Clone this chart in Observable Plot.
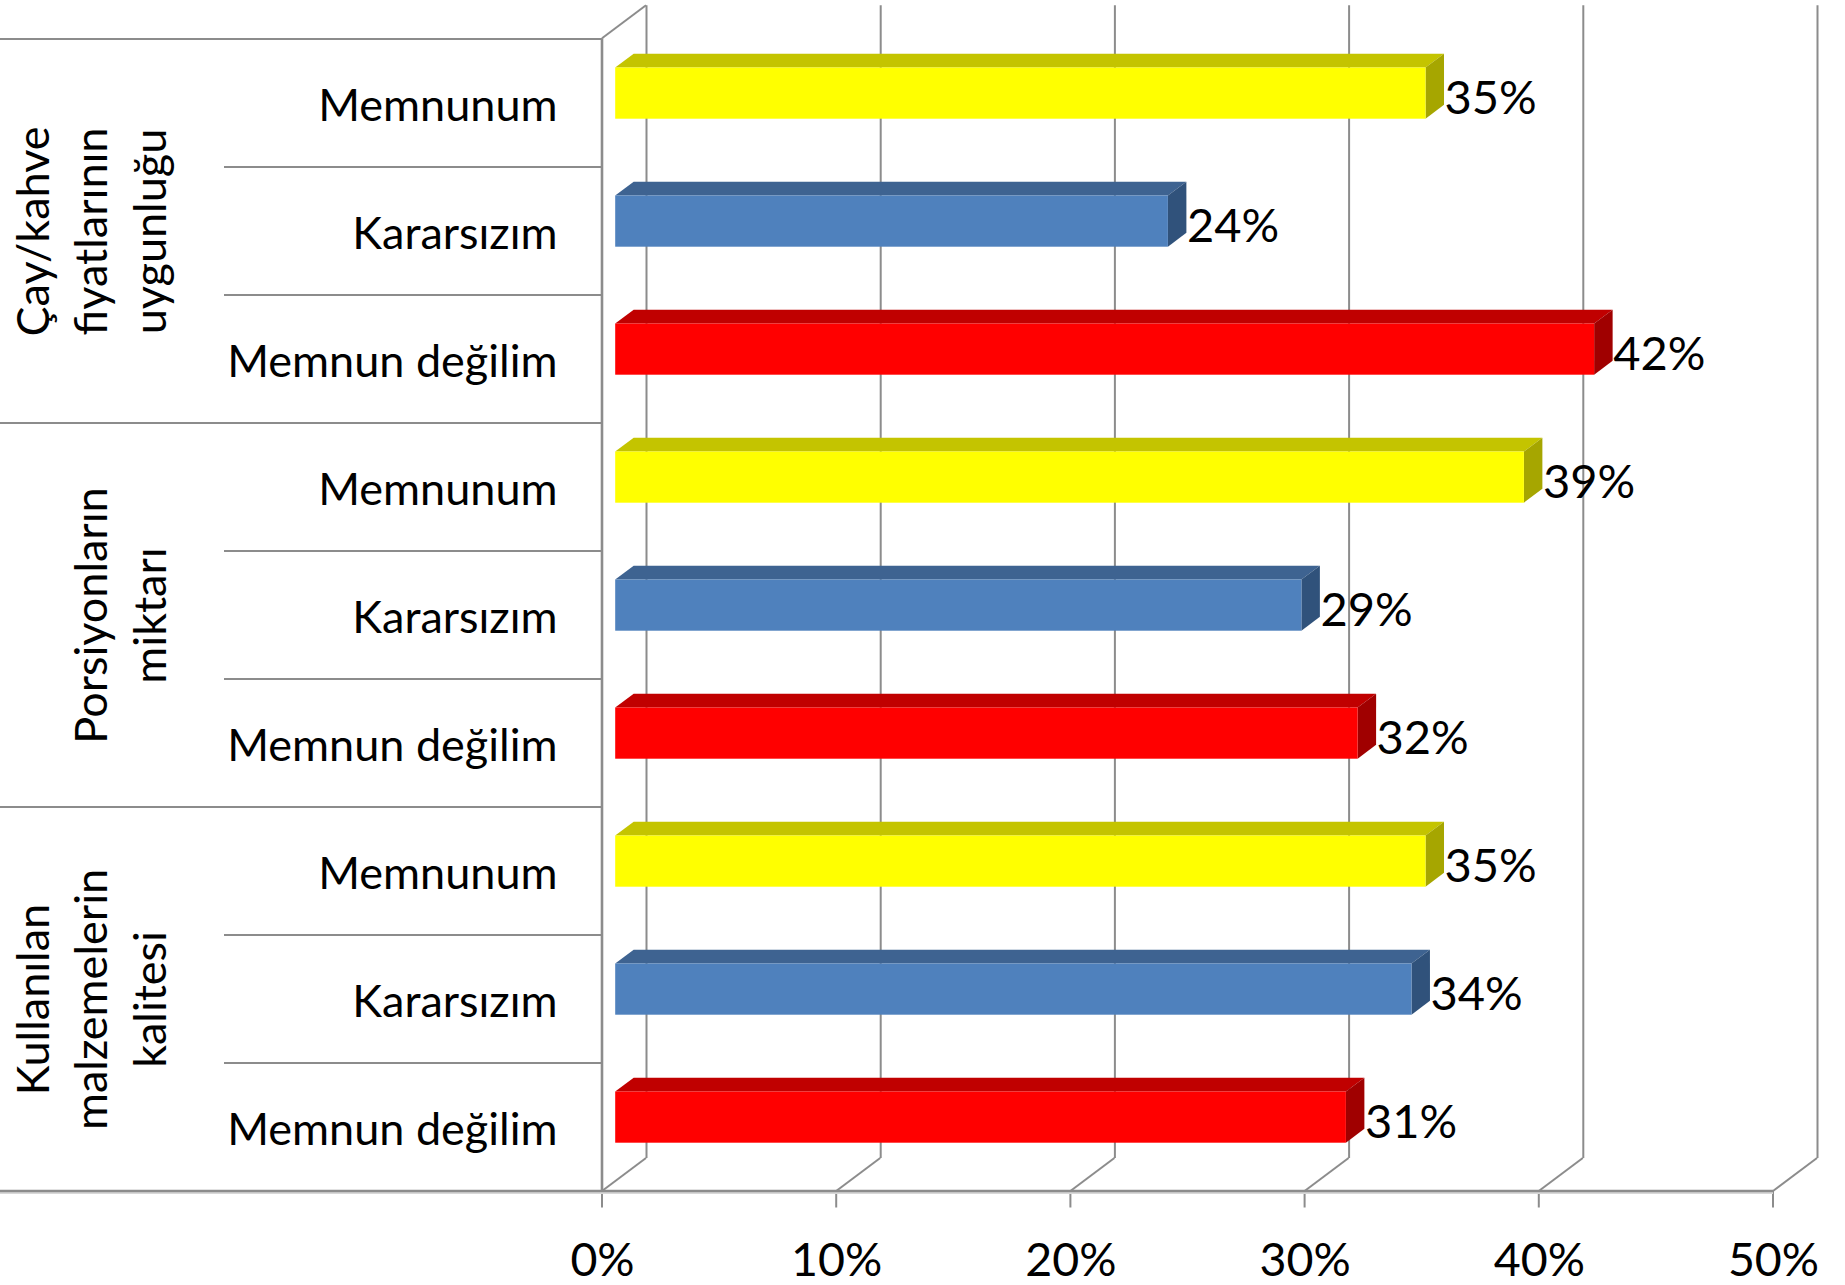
<!DOCTYPE html>
<html>
<head>
<meta charset="utf-8">
<script src="https://cdn.jsdelivr.net/npm/d3@7"></script>
<script src="https://cdn.jsdelivr.net/npm/@observablehq/plot@0.6"></script>
<style>
  html, body { margin: 0; padding: 0; background: #ffffff; }
  #chart svg { display: block; }
</style>
</head>
<body>
<div id="chart"></div>
<script>
// ---- data ----
const groupLabels = ["Çay/kahve\nfiyatlarının\nuygunluğu", "Porsiyonların\nmiktarı", "Kullanılan\nmalzemelerin\nkalitesi"];
const responses = ["Memnunum", "Kararsızım", "Memnun değilim"];
const cayKahveFiyat = [34.6, 23.6, 41.8];
const porsiyonMiktar = [38.8, 29.3, 31.7];
const malzemeKalite = [34.6, 34.0, 31.2];
const xTicks = [0, 10, 20, 30, 40, 50];

// ---- styles ----
const frontColors = ["#FFFF00", "#4F81BD", "#FF0000"];
const topColors = ["#C4C400", "#3E6391", "#C00000"];
const sideColors = ["#A6A600", "#30527B", "#A00000"];
const GRID = "#8C8C8C";
const FONT = "Lato, 'Open Sans', sans-serif";

const series = [cayKahveFiyat, porsiyonMiktar, malzemeKalite];
const rows = series.flatMap((vals, g) =>
  responses.map((r, i) => ({group: g, idx: i, key: `${g}-${i}`, response: r, value: vals[i]})));
const groups = groupLabels.map((label, g) => ({label, key: `${g}-1`}));

// ---- layout ----
const W = 1845, H = 1285;
const M = {top: 38.3, right: 72, bottom: 94, left: 602};
const DEPTH = {dx: 44, dy: -33};
const BAR_FRONT = 0.30, BAR_BACK = 0.72;
const INSET = 38.4;
const SUB_LEFT = 224;
const TICK = 16.5;

function frame3d(index, scales, values, dim) {
  const x = scales.x, y = scales.y;
  const top = dim.marginTop, bottom = dim.height - dim.marginBottom;
  const x0 = x(0);
  const g = d3.create("svg:g").attr("fill", "none").attr("stroke", GRID).attr("stroke-width", 2);
  const line = (a, b, c, d, w) => g.append("line").attr("x1", a).attr("y1", b).attr("x2", c).attr("y2", d).attr("stroke-width", w || 2);
  for (const t of xTicks) {
    line(x(t), bottom, x(t) + DEPTH.dx, bottom + DEPTH.dy);
    line(x(t), bottom, x(t), bottom + TICK);
  }
  line(x0, top, x0 + DEPTH.dx, top + DEPTH.dy);
  for (const r of rows) {
    const yb = y(r.key);
    if (r.idx === 0) line(0, yb, x0, yb, 2.2);
    else line(SUB_LEFT, yb, x0, yb, 2);
  }
  g.append("line").attr("x1", 0).attr("y1", bottom + 2).attr("x2", x(xTicks[xTicks.length - 1])).attr("y2", bottom + 2)
    .attr("stroke", "#D8D8D8").attr("stroke-width", 2);
  line(0, bottom, x(xTicks[xTicks.length - 1]), bottom, 2.6);
  line(x0, top, x0, bottom, 2.6);
  return g.node();
}

function faces(index, scales, values, dim) {
  const x = scales.x, y = scales.y;
  const bw = typeof y.bandwidth === "function" ? y.bandwidth() : y.bandwidth;
  const g = d3.create("svg:g");
  const ax = BAR_FRONT * DEPTH.dx, ay = BAR_FRONT * DEPTH.dy;
  const bx = BAR_BACK * DEPTH.dx, by = BAR_BACK * DEPTH.dy;
  for (const r of rows) {
    const x0 = x(0), x1 = x(r.value);
    const y0 = y(r.key) + INSET, y1 = y(r.key) + bw - INSET;
    const topPts = [[x0 + ax, y0 + ay], [x1 + ax, y0 + ay], [x1 + bx, y0 + by], [x0 + bx, y0 + by]];
    const sidePts = [[x1 + ax, y0 + ay], [x1 + bx, y0 + by], [x1 + bx, y1 + by], [x1 + ax, y1 + ay]];
    g.append("polygon").attr("points", topPts.map(p => p.join(",")).join(" ")).attr("fill", topColors[r.idx]);
    g.append("polygon").attr("points", sidePts.map(p => p.join(",")).join(" ")).attr("fill", sideColors[r.idx]);
  }
  return g.node();
}

const chart = Plot.plot({
  width: W,
  height: H,
  marginTop: M.top,
  marginRight: M.right,
  marginBottom: M.bottom,
  marginLeft: M.left,
  style: {fontFamily: FONT, fontSize: "45px", color: "#000", background: "#fff", overflow: "visible"},
  x: {domain: [0, 50], axis: null},
  y: {type: "band", domain: rows.map(d => d.key), padding: 0, axis: null},
  marks: [
    Plot.ruleX(xTicks, {x: d => d, dx: DEPTH.dx, dy: DEPTH.dy, stroke: GRID, strokeWidth: 2}),
    frame3d,
    faces,
    Plot.barX(rows, {
      x: "value", y: "key",
      insetTop: INSET, insetBottom: INSET,
      dx: BAR_FRONT * DEPTH.dx, dy: BAR_FRONT * DEPTH.dy,
      fill: d => frontColors[d.idx]
    }),
    Plot.text(rows, {
      x: "value", y: "key",
      text: d => `${Math.round(d.value)}%`,
      textAnchor: "start",
      dx: BAR_BACK * DEPTH.dx, dy: -5,
      fontSize: 47, fill: "#000"
    }),
    Plot.text(rows, {
      y: "key", text: "response",
      frameAnchor: "left", textAnchor: "end",
      dx: -45, dy: 3,
      fontSize: 45, fill: "#000"
    }),
    Plot.text(groups, {
      y: "key", text: "label",
      frameAnchor: "left", rotate: -90,
      textAnchor: "middle", lineAnchor: "bottom", lineHeight: 1.3,
      dx: 165 - M.left,
      fontSize: 45, fill: "#000"
    }),
    Plot.text(xTicks, {
      x: d => d, text: d => `${d}%`,
      frameAnchor: "bottom", lineAnchor: "top",
      dy: 51, fontSize: 46.5, fill: "#000"
    })
  ]
});

document.getElementById("chart").appendChild(chart);
</script>
</body>
</html>
